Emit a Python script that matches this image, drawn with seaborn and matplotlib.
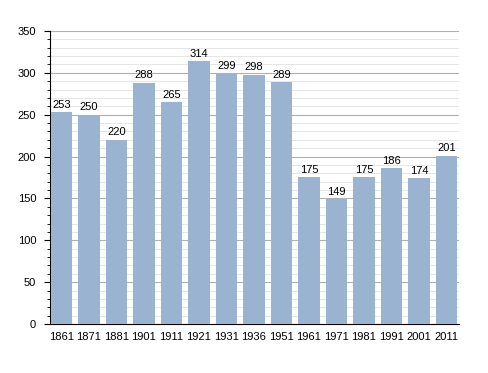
import matplotlib
matplotlib.use('Agg')
import matplotlib.pyplot as plt
import seaborn as sns
import pandas as pd
from matplotlib.ticker import MultipleLocator

years = ['1861', '1871', '1881', '1901', '1911', '1921', '1931', '1936',
         '1951', '1961', '1971', '1981', '1991', '2001', '2011']
population = [253, 250, 220, 288, 265, 314, 299, 298, 289, 175, 149, 175, 186, 174, 201]

df = pd.DataFrame({'annee': years, 'pop': population})

sns.set_style('white')
plt.rcParams['font.family'] = ['Liberation Sans', 'DejaVu Sans']
plt.rcParams['text.color'] = 'black'
plt.rcParams['xtick.color'] = 'black'
plt.rcParams['ytick.color'] = 'black'

fig = plt.figure(figsize=(4.88, 3.73), dpi=100)
ax = fig.add_axes([0.1025, 0.1314, 0.838, 0.7855])

sns.barplot(data=df, x='annee', y='pop', color='#99b3d0', saturation=1,
            width=0.78, linewidth=0, ax=ax, zorder=3)

for i, v in enumerate(population):
    ax.text(i, v + 3, str(v), ha='center', va='bottom', fontsize=8, color='black', zorder=4)

ax.set_ylim(0, 350)
ax.set_xlim(-0.41, 14.45)
ax.yaxis.set_major_locator(MultipleLocator(50))
ax.yaxis.set_minor_locator(MultipleLocator(10))
ax.grid(which='major', axis='y', color='#b0b0b0', linewidth=0.8, zorder=0)
ax.grid(which='minor', axis='y', color='#e2e2e2', linewidth=0.6, zorder=0)
ax.set_axisbelow(True)

for s in ['top', 'right']:
    ax.spines[s].set_visible(False)
ax.spines['left'].set_color('black')
ax.spines['bottom'].set_color('black')
ax.spines['left'].set_linewidth(0.8)
ax.spines['bottom'].set_linewidth(0.8)

ax.tick_params(axis='y', which='major', left=True, length=4, width=0.8, labelsize=8, pad=6)
ax.tick_params(axis='y', which='minor', left=True, length=2, width=0.6)
ax.tick_params(axis='x', bottom=False, labelsize=8, pad=2)
ax.set_xlabel('')
ax.set_ylabel('')

fig.savefig('out.png', dpi=100)
